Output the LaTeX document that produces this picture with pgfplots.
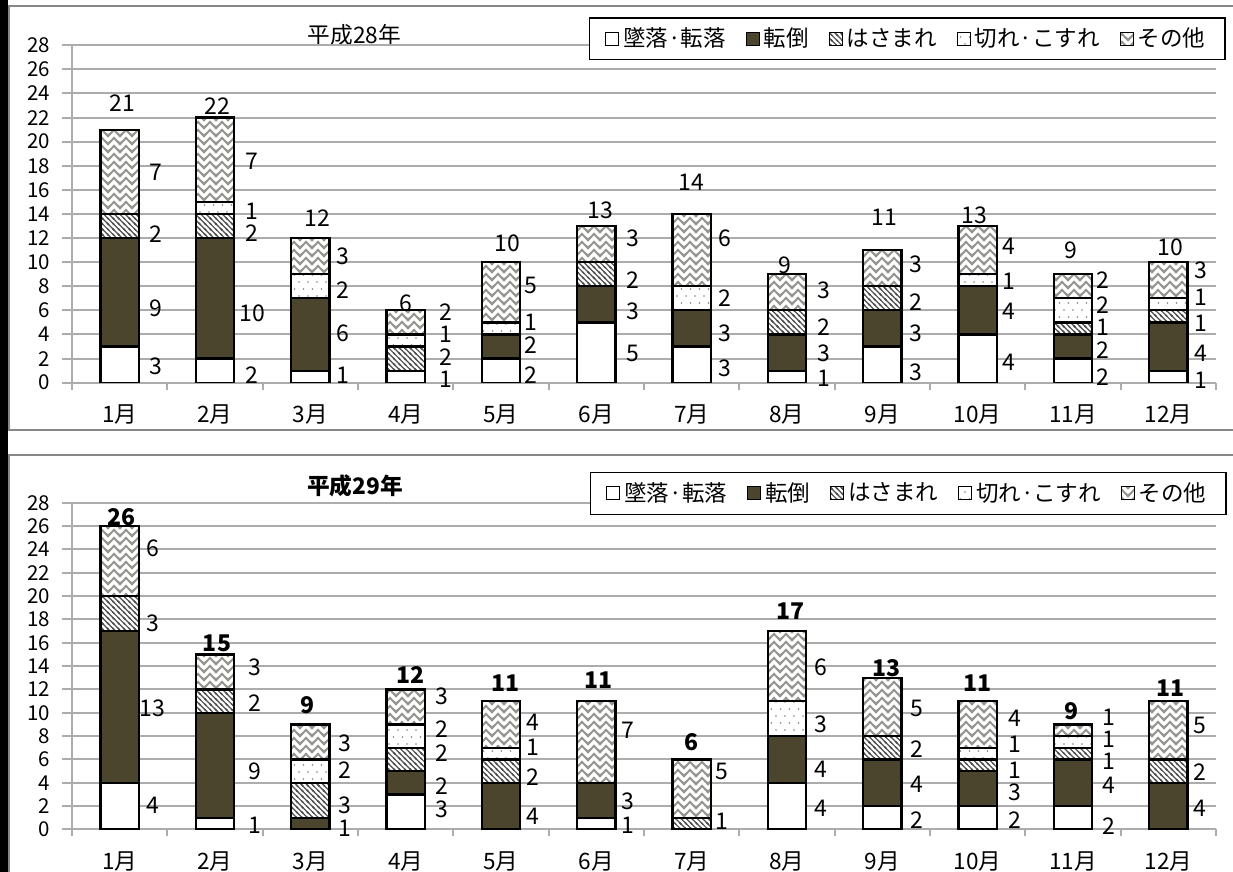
\documentclass[border=0pt]{standalone}
\usepackage{fontspec}
\setmainfont{Noto Sans CJK JP}
\usepackage{pgfplots}
\usepackage{pgfplotstable}
\pgfplotsset{compat=1.18}
\usetikzlibrary{patterns}

\definecolor{tentou}{RGB}{74,69,44}
\definecolor{gridgray}{RGB}{172,172,172}
\definecolor{framegray}{RGB}{135,135,135}
\definecolor{weavegray}{RGB}{150,150,145}
\definecolor{hatchgray}{RGB}{80,80,80}
\definecolor{dotgray}{RGB}{130,130,130}

\newcommand\tickfont{\fontsize{10.25pt}{12pt}\selectfont}
\newcommand\monthfont{\fontsize{11.3pt}{13pt}\selectfont}
\newcommand\labfont{\fontsize{11.5pt}{13pt}\selectfont}
\newcommand\legfont{\fontsize{11.25pt}{13pt}\selectfont}
\newcommand\titlefont{\fontsize{11.35pt}{13pt}\selectfont}

% zigzag weave used for その他
\pgfdeclarepatternformonly{weave}{\pgfqpoint{-1pt}{-1pt}}{\pgfqpoint{7pt}{5pt}}{\pgfqpoint{6pt}{4pt}}{%
  \pgfsetlinewidth{1.0pt}%
  \pgfpathmoveto{\pgfqpoint{-3pt}{3pt}}\pgfpathlineto{\pgfqpoint{0pt}{0pt}}\pgfpathlineto{\pgfqpoint{3pt}{3pt}}\pgfpathlineto{\pgfqpoint{6pt}{0pt}}\pgfpathlineto{\pgfqpoint{9pt}{3pt}}%
  \pgfpathmoveto{\pgfqpoint{-3pt}{7pt}}\pgfpathlineto{\pgfqpoint{0pt}{4pt}}\pgfpathlineto{\pgfqpoint{3pt}{7pt}}\pgfpathlineto{\pgfqpoint{6pt}{4pt}}\pgfpathlineto{\pgfqpoint{9pt}{7pt}}%
  \pgfpathmoveto{\pgfqpoint{-3pt}{-1pt}}\pgfpathlineto{\pgfqpoint{0pt}{-4pt}}\pgfpathlineto{\pgfqpoint{3pt}{-1pt}}\pgfpathlineto{\pgfqpoint{6pt}{-4pt}}\pgfpathlineto{\pgfqpoint{9pt}{-1pt}}%
  \pgfusepath{stroke}}

% dense back-slash hatching used for はさまれ
\pgfdeclarepatternformonly{hatch}{\pgfqpoint{-0.5pt}{-0.5pt}}{\pgfqpoint{3.2pt}{3.2pt}}{\pgfqpoint{2.7pt}{2.7pt}}{%
  \pgfsetlinewidth{0.6pt}%
  \pgfpathmoveto{\pgfqpoint{-0.5pt}{3.2pt}}\pgfpathlineto{\pgfqpoint{3.2pt}{-0.5pt}}%
  \pgfpathmoveto{\pgfqpoint{-0.5pt}{0.5pt}}\pgfpathlineto{\pgfqpoint{0.5pt}{-0.5pt}}%
  \pgfpathmoveto{\pgfqpoint{2.2pt}{3.2pt}}\pgfpathlineto{\pgfqpoint{3.2pt}{2.2pt}}%
  \pgfusepath{stroke}}

% sparse dots used for 切れ・こすれ
\pgfdeclarepatternformonly{sparsedots}{\pgfqpoint{-1pt}{-1pt}}{\pgfqpoint{5.5pt}{8pt}}{\pgfqpoint{4.5pt}{7pt}}{%
  \pgfpathcircle{\pgfqpoint{1pt}{1pt}}{0.45pt}%
  \pgfpathcircle{\pgfqpoint{3.25pt}{4.5pt}}{0.45pt}%
  \pgfusepath{fill}}

% m: month index; a: 墜落・転落, b: 転倒, c: はさまれ, d: 切れ・こすれ, e: その他
% ya..ye: height of each value label, tt: height of the total label,
% dx/tx: horizontal offsets (px) of the value labels and of the total label
\pgfplotstableread{
m  a  b c d e  ya   yb   yc   yd   ye   tt    dx  tx
0  3  9 2 0 7  1.33 6.2  12.3 0    17.5 23.2  36  2.5
1  2 10 2 1 7  0.65 5.75 12.4 14.2 18.4 22.96 37  2
2  1  6 0 2 3  0.65 4.1  0    7.7  10.5 13.67 33  6.7
3  1  0 2 1 2  0.3  0    2.15 4.0  5.85 6.6   40  0
4  2  2 0 1 5  0.65 3.1  0    5.0  8.1  11.6  30  6
5  5  3 2 0 3  2.4  5.9  8.5  0    12.0 14.3  37  4
6  3  3 0 2 6  1.2  4.1  0    7.0  12.0 16.6  33  0
7  1  3 2 0 3  0.35 2.4  4.6  0    7.7  9.77  37  -2
8  3  3 2 0 3  0.9  4.1  6.7  0    9.8  13.75 34  2
9  4  4 0 1 4  1.7  5.9  0    8.4  11.3 13.9  31  -3
10 2  2 1 2 2  0.5  2.7  4.6  6.4  8.5  11.0  30  -2
11 1  4 1 1 3  0.2  2.4  4.9  7.1  9.3  11.2  33  2
}\tblA

\pgfplotstableread{
m  a  b c d e  ya   yb   yc   yd   ye   tt    dx  tx
0  4 13 3 0 6  2.1  10.4 17.7 0    24.1 26.8  33  1.7
1  1  9 2 0 3  0.4  4.95 10.8 0    13.9 15.95 40  2
2  0  1 3 2 3  0    0.1  2.1  5.1  7.4  10.67 35  -2.7
3  3  2 2 2 3  1.7  3.7  6.5  8.6  11.4 13.2  36  5
4  0  4 2 1 4  0    1.1  4.5  7.0  9.15 12.5  32  4.6
5  1  3 0 0 7  0.4  2.4  0    0    8.5  12.8  32  2
6  0  0 1 0 5  0    0    0.7  0    5.0  7.5   30  0
7  4  4 0 3 6  1.8  5.2  0    9.0  13.9 18.75 34  3.5
8  2  4 2 0 5  0.8  3.9  6.9  0    10.4 13.8  35  4
9  2  3 1 1 4  0.8  3.2  5.1  7.3  9.5  12.5  37  0
10 2  4 1 1 1  0.25 3.8  5.8  7.7  9.6  10.1  36  -1.6
11 0  4 2 0 5  0    1.8  4.9  0    8.95 12.1  32  2
}\tblB

\pgfplotsset{
  /pgf/number format/assume math mode=true,
  panel/.style={
    ybar stacked, bar width=0.404,
    scale only axis, width=572pt,
    xmin=-0.5, xmax=11.5, ymin=0, ymax=28,
    axis x line*=bottom, axis y line*=left,
    axis line style={-, gridgray, line width=1pt},
    ytick={0,2,...,28},
    xtick={0,...,11},
    xticklabels={1月,2月,3月,4月,5月,6月,7月,8月,9月,10月,11月,12月},
    minor xtick={-0.5,0.5,...,11.5},
    tick align=outside,
    major tick length=5pt, minor tick length=3.5pt,
    tick style={gridgray, line width=1pt},
    major x tick style={draw=none},
    ymajorgrids, grid style={gridgray, line width=1pt},
    yticklabel style={font=\tickfont, anchor=east, xshift=-2.5pt},
    xticklabel style={font=\monthfont, anchor=center, yshift=-11pt},
    legend columns=-1,
    legend style={anchor=north east, draw=black, line width=0.8pt,
      font=\legfont, inner xsep=8pt, inner ysep=3pt,
      /tikz/every even column/.append style={column sep=8pt}},
  },
  bars/.style={draw=black, line width=1.1pt},
  labelaxis/.style={
    scale only axis, width=572pt,
    xmin=-0.5, xmax=11.5, ymin=0, ymax=28,
    hide axis, clip=false,
  },
  % value label of one segment: #1 = height column, #2 = value column
  lab/.style 2 args={
    draw=none, mark=none,
    point meta=\thisrow{#2},
    visualization depends on={\thisrow{dx}\as\dxv},
    nodes near coords={\pgfmathfloatifflags{\pgfplotspointmeta}{0}{}{\pgfmathprintnumber{\pgfplotspointmeta}}},
    every node near coord/.style={font=\labfont, text=black, anchor=center, inner sep=0pt,
      xshift=\dxv*0.5pt},
  },
  tot/.style={
    draw=none, mark=none,
    point meta={\thisrow{a}+\thisrow{b}+\thisrow{c}+\thisrow{d}+\thisrow{e}},
    visualization depends on={\thisrow{tx}\as\txv},
    nodes near coords={\pgfmathprintnumber{\pgfplotspointmeta}},
    every node near coord/.style={font=#1, text=black, anchor=center, inner sep=0pt,
      xshift=\txv*0.5pt},
  },
}

\begin{document}
\begin{tikzpicture}
\useasboundingbox (0,0) rectangle (616.5pt,436pt);
\clip (0,0) rectangle (616.5pt,436pt);
\fill[black] (0,0) rectangle (3.9pt,436pt);
\draw[framegray, line width=1pt] (4.4pt,221pt) rectangle (640pt,433pt);
\draw[framegray, line width=1pt] (4.4pt,-10pt) rectangle (640pt,208.5pt);
\node[font=\titlefont] at (177.25pt,418.5pt) {平成28年};
\node[font=\titlefont\bfseries] at (177.5pt,193.25pt) {平成29年};

% 平成28年
\begin{axis}[panel, at={(36pt,244.65pt)}, anchor=south west, height=168.7pt,
  legend style={at={(1.0087,1.0839)}},
  legend image code/.code={\draw[#1, line width=0.5pt] (0pt,-3.25pt) rectangle (6.5pt,3.25pt);}]
\addplot[bars, fill=white] table[x=m, y=a] {\tblA};
\addlegendentry{墜落·転落}
\addplot[bars, fill=tentou] table[x=m, y=b] {\tblA};
\addlegendentry{転倒}
\addplot[bars, fill=white, postaction={pattern=hatch, pattern color=hatchgray}] table[x=m, y=c] {\tblA};
\addlegendentry{はさまれ}
\addplot[bars, fill=white, postaction={pattern=sparsedots, pattern color=dotgray}] table[x=m, y=d] {\tblA};
\addlegendentry{切れ·こすれ}
\addplot[bars, fill=white, postaction={pattern=weave, pattern color=weavegray}] table[x=m, y=e] {\tblA};
\addlegendentry{その他}
\end{axis}
\begin{axis}[labelaxis, at={(36pt,244.65pt)}, anchor=south west, height=168.7pt]
\addplot[lab={ya}{a}] table[x=m, y=ya] {\tblA};
\addplot[lab={yb}{b}] table[x=m, y=yb] {\tblA};
\addplot[lab={yc}{c}] table[x=m, y=yc] {\tblA};
\addplot[lab={yd}{d}] table[x=m, y=yd] {\tblA};
\addplot[lab={ye}{e}] table[x=m, y=ye] {\tblA};
\addplot[tot=\labfont] table[x=m, y=tt] {\tblA};
\end{axis}

% 平成29年
\begin{axis}[panel, at={(36pt,21.25pt)}, anchor=south west, height=163.4pt,
  legend style={at={(1.0096,1.0949)}},
  legend image code/.code={\draw[#1, line width=0.5pt] (0pt,-3.25pt) rectangle (6.5pt,3.25pt);}]
\addplot[bars, fill=white] table[x=m, y=a] {\tblB};
\addlegendentry{墜落·転落}
\addplot[bars, fill=tentou] table[x=m, y=b] {\tblB};
\addlegendentry{転倒}
\addplot[bars, fill=white, postaction={pattern=hatch, pattern color=hatchgray}] table[x=m, y=c] {\tblB};
\addlegendentry{はさまれ}
\addplot[bars, fill=white, postaction={pattern=sparsedots, pattern color=dotgray}] table[x=m, y=d] {\tblB};
\addlegendentry{切れ·こすれ}
\addplot[bars, fill=white, postaction={pattern=weave, pattern color=weavegray}] table[x=m, y=e] {\tblB};
\addlegendentry{その他}
\end{axis}
\begin{axis}[labelaxis, at={(36pt,21.25pt)}, anchor=south west, height=163.4pt]
\addplot[lab={ya}{a}] table[x=m, y=ya] {\tblB};
\addplot[lab={yb}{b}] table[x=m, y=yb] {\tblB};
\addplot[lab={yc}{c}] table[x=m, y=yc] {\tblB};
\addplot[lab={yd}{d}] table[x=m, y=yd] {\tblB};
\addplot[lab={ye}{e}] table[x=m, y=ye] {\tblB};
\addplot[tot=\labfont\bfseries] table[x=m, y=tt] {\tblB};
\end{axis}
\end{tikzpicture}
\end{document}
